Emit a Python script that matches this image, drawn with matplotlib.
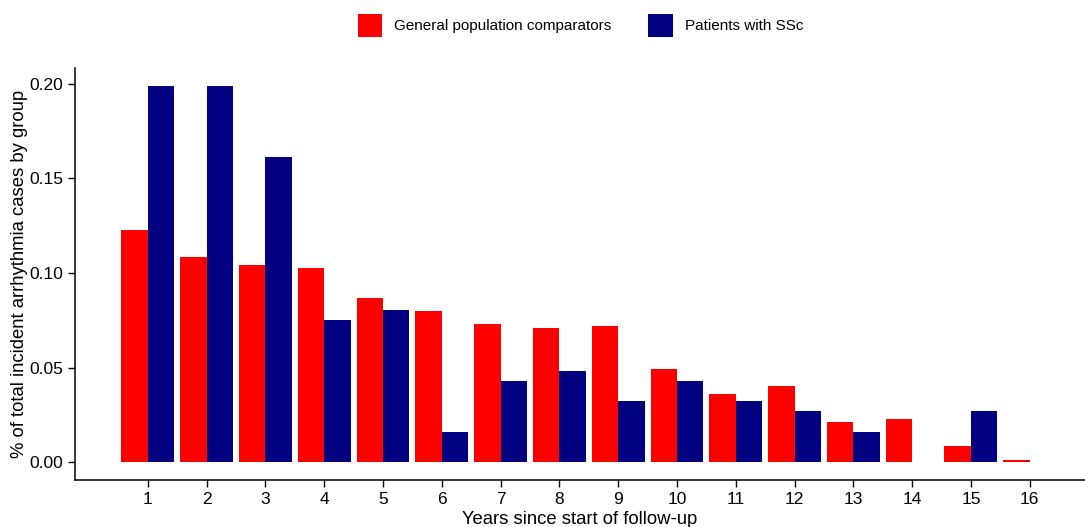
import numpy as np
import matplotlib.pyplot as plt
from matplotlib.patches import Patch

plt.rcParams['font.family'] = ['Liberation Sans', 'DejaVu Sans']

# share of incident arrhythmia cases per follow-up year
years = np.arange(1, 17)
general_pop = [0.1228, 0.1085, 0.1042, 0.1026, 0.0868, 0.0799, 0.0730, 0.0709,
               0.0720, 0.0492, 0.0360, 0.0402, 0.0212, 0.0228, 0.0085, 0.0012]
ssc_patients = [0.1989, 0.1989, 0.1613, 0.0753, 0.0806, 0.0161, 0.0430, 0.0484,
                0.0323, 0.0430, 0.0323, 0.0269, 0.0161, 0.0, 0.0269, 0.0]
labels = ["General population comparators", "Patients with SSc"]
colors = ["#FF0000", "#000080"]

fig = plt.figure(figsize=(10.85, 5.27), dpi=100)
ax = fig.add_axes([0.0691, 0.0892, 0.9309, 0.782])

w = 0.45
ax.bar(years - w / 2, general_pop, width=w, color=colors[0])
ax.bar(years + w / 2, ssc_patients, width=w, color=colors[1])

ax.set_xlim(-0.24, 16.94)
ax.set_ylim(-0.0095, 0.2085)
ax.set_xticks(years)
ax.set_yticks([0.0, 0.05, 0.10, 0.15, 0.20])
ax.set_yticklabels(["0.00", "0.05", "0.10", "0.15", "0.20"])
ax.tick_params(labelsize=12.5, length=5, width=1, colors='black')

for s in ['top', 'right']:
    ax.spines[s].set_visible(False)
for s in ['left', 'bottom']:
    ax.spines[s].set_linewidth(1.1)

ax.set_xlabel("Years since start of follow-up", fontsize=13.3, labelpad=3)
ax.set_ylabel("% of total incident arrhythmia cases by group", fontsize=13.3, labelpad=1)

handles = [Patch(facecolor=c) for c in colors]
fig.legend(handles, labels, loc='upper center', bbox_to_anchor=(0.535, 1.0),
           ncol=2, frameon=False, fontsize=11, handlelength=1.6, handleheight=2.0,
           columnspacing=2.4, handletextpad=0.8, borderaxespad=0.5)

fig.savefig("out.png", dpi=100)
